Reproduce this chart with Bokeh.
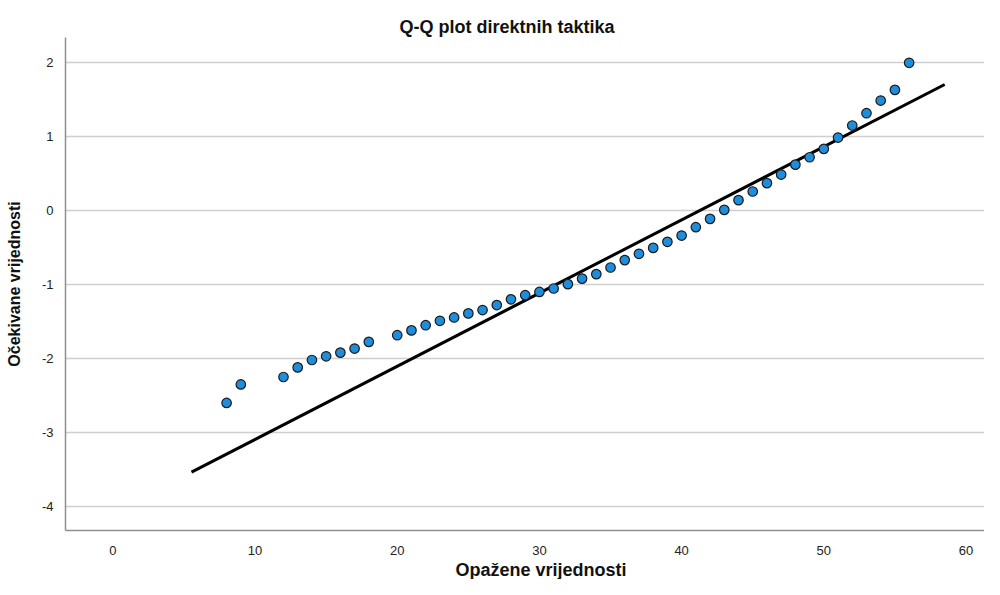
from bokeh.plotting import figure
from bokeh.models import Range1d, FixedTicker, Title
from bokeh.embed import file_html
from bokeh.resources import INLINE

# Observed values (x) and expected normal values (y)
observed = [8, 9, 12, 13, 14, 15, 16, 17, 18, 20, 21, 22, 23, 24, 25, 26, 27, 28,
            29, 30, 31, 32, 33, 34, 35, 36, 37, 38, 39, 40, 41, 42, 43, 44, 45, 46,
            47, 48, 49, 50, 51, 52, 53, 54, 55, 56]
expected = [-2.60, -2.35, -2.25, -2.12, -2.02, -1.97, -1.92, -1.865, -1.775, -1.685,
            -1.62, -1.55, -1.49, -1.445, -1.39, -1.345, -1.278, -1.20, -1.144, -1.10,
            -1.054, -0.995, -0.92, -0.86, -0.77, -0.67, -0.585, -0.505, -0.423, -0.338,
            -0.225, -0.113, 0.009, 0.14, 0.257, 0.37, 0.486, 0.62, 0.72, 0.833,
            0.986, 1.149, 1.315, 1.486, 1.63, 1.996]

# Reference line endpoints
line_x = [5.53, 58.5]
line_y = [-3.536, 1.703]

x_ticks = [0, 10, 20, 30, 40, 50, 60]
y_ticks = [-4, -3, -2, -1, 0, 1, 2]

title_text = "Q-Q plot direktnih taktika"
x_label = "Opažene vrijednosti"
y_label = "Očekivane vrijednosti"

FONT = "Liberation Sans"

p = figure(width=984, height=579, output_backend="svg", toolbar_location=None,
           x_range=Range1d(-3.33, 61.3), y_range=Range1d(-4.324, 2.338),
           min_border_left=65, min_border_right=0, min_border_top=37, min_border_bottom=49)
p.outline_line_color = None
p.background_fill_color = "white"
p.border_fill_color = "white"

t = Title(text=title_text, align="left", offset=334, text_font=FONT,
          text_font_size="18px", text_font_style="bold", text_color="#111111",
          standoff=2)
p.add_layout(t, "above")

xt = Title(text=x_label, align="left", offset=390, text_font=FONT,
           text_font_size="18px", text_font_style="bold", text_color="#111111",
           standoff=0)
p.add_layout(xt, "below")

# grids
p.xgrid.visible = False
p.ygrid.ticker = FixedTicker(ticks=y_ticks)
p.ygrid.grid_line_color = "#cfcfcf"
p.ygrid.grid_line_width = 1.5

# axes
for ax in (p.xaxis[0], p.yaxis[0]):
    ax.axis_line_color = "#8f8f8f"
    ax.axis_line_width = 1.5
    ax.major_tick_line_color = None
    ax.minor_tick_line_color = None
    ax.major_label_text_font = FONT
    ax.major_label_text_font_size = "13px"
    ax.major_label_text_color = "#222222"
    ax.axis_label_text_font = FONT
    ax.axis_label_text_font_style = "bold"
    ax.axis_label_text_color = "#111111"

p.xaxis.ticker = FixedTicker(ticks=x_ticks)
p.yaxis.ticker = FixedTicker(ticks=y_ticks)
p.yaxis.major_label_overrides = {v: str(v) for v in y_ticks}
p.xaxis.major_label_standoff = 9
p.yaxis.major_label_standoff = 6
p.yaxis.axis_label = y_label
p.yaxis.axis_label_text_font_size = "16px"
p.yaxis.axis_label_standoff = 16

p.line(line_x, line_y, line_color="black", line_width=3)
p.scatter(observed, expected, size=9.5, fill_color="#1E8EDC", line_color="#1a1a1a",
          line_width=1.2)

open("out.html", "w").write(file_html(p, INLINE))
